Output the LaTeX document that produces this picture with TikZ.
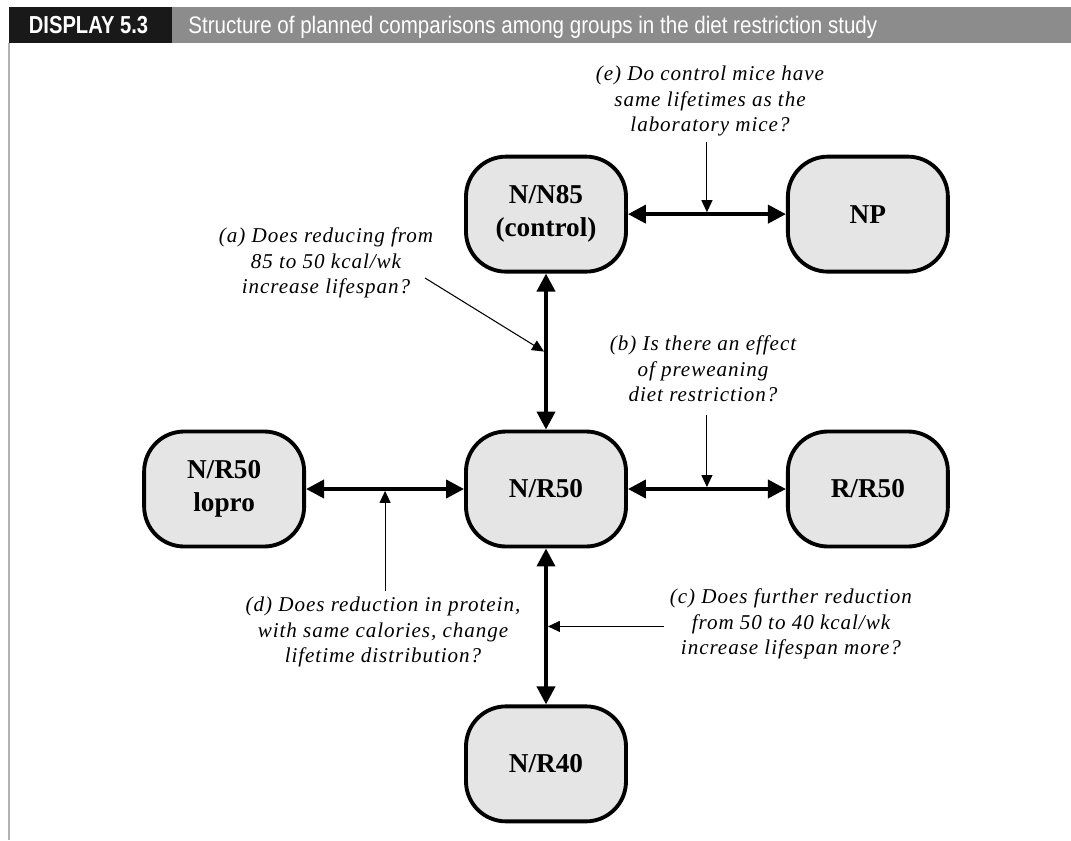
\documentclass[tikz,border=0pt]{standalone}
\usepackage{fontspec}
\setmainfont{Liberation Serif}
\newfontfamily\qfont[LetterSpace=4.5]{Liberation Serif}
\newfontfamily\headfont[FakeStretch=0.82]{Liberation Sans}
\newfontfamily\titlefont[FakeStretch=0.86]{Liberation Sans}
\usepackage{xcolor}
\usepackage{tikz}
\usetikzlibrary{positioning, arrows.meta}

\tikzset{
	group/.style={draw, line width=2.2pt, fill=black!10, rounded corners=0.8cm,
		minimum width=3.2cm, minimum height=2.3cm, align=center,
		font=\fontsize{15.5}{19}\selectfont\bfseries},
	conn/.style={{Triangle[length=0.36cm,width=0.36cm]}-{Triangle[length=0.36cm,width=0.36cm]}, line width=2.2pt},
	ptr/.style={-{Triangle[length=0.24cm,width=0.22cm]}, line width=0.6pt},
	question/.style={align=center, font=\qfont\itshape\fontsize{12}{14.6}\selectfont}
}

\begin{document}
\begin{tikzpicture}
				\useasboundingbox (0,0) rectangle (21.42,-16.8);
				
				% header
				\fill[black!90] (0.18,-0.14) rectangle (3.44,-0.86);
				\fill[black!45] (3.44,-0.14) rectangle (21.42,-0.86);
				\node[anchor=base, text=white, font=\headfont\bfseries\fontsize{14}{16}\selectfont] (disp) at (1.77,-0.67) {DISPLAY 5.3};
				\node[anchor=base west, inner sep=0pt, text=white, font=\titlefont\fontsize{13.6}{15}\selectfont] (ttl) at (3.76,-0.66) {Structure of planned comparisons among groups in the diet restriction study};
				\draw[black!30, line width=0.6pt] (0.18,-0.86) -- (0.18,-16.8);
				
				% groups
				\node[group] (nr50) at (10.92,-9.78) {N/R50};
				\node[group, above=3.12cm of nr50] (nn85) {N/N85\\(control)};
				\node[group, right=3.16cm of nn85] (np) {NP};
				\node[group, left=3.16cm of nr50] (lopro) {N/R50\\lopro};
				\node[group, right=3.16cm of nr50] (rr50) {R/R50};
				\node[group, below=3.12cm of nr50] (nr40) {N/R40};
				
				\draw[conn] (nn85) -- coordinate[pos=0.5] (me) (np);
				\draw[conn] (nn85) -- coordinate[pos=0.5] (ma) (nr50);
				\draw[conn] (nr50) -- coordinate[pos=0.5] (mb) (rr50);
				\draw[conn] (nr50) -- coordinate[pos=0.5] (mc) (nr40);
				\draw[conn] (lopro) -- coordinate[pos=0.5] (md) (nr50);
				
				% questions
				\node[question] (qe) at (14.2,-2.02) {(e) Do control mice have\\same lifetimes as the\\laboratory mice?};
				\node[question] (qa) at (6.52,-5.26) {(a) Does reducing from\\85 to 50 kcal/wk\\increase lifespan?};
				\node[question] (qb) at (14.06,-7.38) {(b) Is there an effect\\of preweaning\\diet restriction?};
				\node[question] (qc) at (15.82,-12.48) {(c) Does further reduction\\from 50 to 40 kcal/wk\\increase lifespan more?};
				\node[question] (qd) at (7.66,-12.64) {(d) Does reduction in protein,\\with same calories, change\\lifetime distribution?};
				
				\coordinate (astart) at (8.5,-5.56);
				\draw[ptr] (qe.south -| me) -- ([yshift=1.1pt]me);
				\draw[ptr] (astart) -- ([xshift=-1.1pt]ma);
				\draw[ptr] ([yshift=-4pt]qb.south -| mb) -- ([yshift=1.1pt]mb);
				\draw[ptr] (qc.west |- mc) -- ([xshift=1.1pt]mc);
				\draw[ptr] (qd.north -| md) -- ([yshift=-1.1pt]md);
			\end{tikzpicture}
\end{document}
